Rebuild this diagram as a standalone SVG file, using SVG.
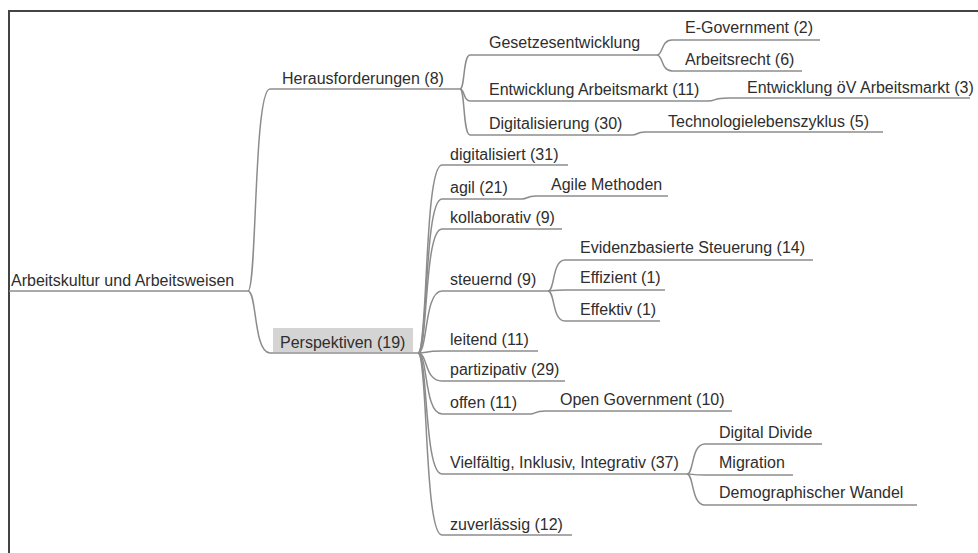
<svg xmlns="http://www.w3.org/2000/svg" width="978" height="553" viewBox="0 0 978 553">
<style>
text{font-family:"Liberation Sans",Arial,sans-serif;font-size:16px;fill:#2e2e2e}
.u,.c{fill:none;stroke:#8c8c8c;stroke-width:1.5}
.frame{fill:none;stroke:#444;stroke-width:2}
</style>
<rect x="0" y="0" width="978" height="553" fill="#fff"/>
<path class="frame" d="M9 553 V11 H978"/>
<g id="connectors">
<path class="c" d="M248 291 C257 291 253.5 89 270 89"/>
<path class="c" d="M248 291 C257 291 253.5 353 270 353"/>
<path class="c" d="M460 89 C465 89 463 55 470 55"/>
<path class="c" d="M460 89 C465 89 463 101 470 101"/>
<path class="c" d="M460 89 C465 89 463 135 470 135"/>
<path class="c" d="M657 55 C663 55 661 40 672 40"/>
<path class="c" d="M657 55 C663 55 661 71 672 71"/>
<path class="c" d="M708 101 C716 101 713 98 728 98"/>
<path class="c" d="M632 135 C638 135 636 132 645 132"/>
<path class="c" d="M418 353 C428 353 424 165 442 165"/>
<path class="c" d="M418 353 C428 353 424 199 442 199"/>
<path class="c" d="M418 353 C428 353 424 229 442 229"/>
<path class="c" d="M418 353 C428 353 424 291 442 291"/>
<path class="c" d="M418 353 C428 353 424 351 442 351"/>
<path class="c" d="M418 353 C428 353 424 381 442 381"/>
<path class="c" d="M418 353 C428 353 424 414 442 414"/>
<path class="c" d="M418 353 C428 353 424 474 442 474"/>
<path class="c" d="M418 353 C428 353 424 535 442 535"/>
<path class="c" d="M522 199 C528 199 526 196 536 196"/>
<path class="c" d="M548 291 C555 291 552 260 565 260"/>
<path class="c" d="M548 291 C555 291 552 290 565 290"/>
<path class="c" d="M548 291 C555 291 552 321 565 321"/>
<path class="c" d="M530 414 C536 414 534 411 545 411"/>
<path class="c" d="M687 474 C694 474 691 444 705 444"/>
<path class="c" d="M687 474 C694 474 691 475 705 475"/>
<path class="c" d="M687 474 C694 474 691 505 705 505"/>
</g>
<g id="root"><text x="11" y="286">Arbeitskultur und Arbeitsweisen</text><path class="u" d="M9 291 H248"/></g>
<g id="herausforderungen"><text x="282" y="84">Herausforderungen (8)</text><path class="u" d="M270 89 H460"/></g>
<g id="perspektiven"><rect x="273" y="328" width="140" height="24" fill="#d4d4d4"/><text x="280" y="348">Perspektiven (19)</text><path class="u" d="M270 353 H418"/></g>
<g id="gesetzesentwicklung"><text x="489" y="48">Gesetzesentwicklung</text><path class="u" d="M470 55 H657"/></g>
<g id="egovernment"><text x="685" y="33">E-Government (2)</text><path class="u" d="M672 40 H820"/></g>
<g id="arbeitsrecht"><text x="685" y="65">Arbeitsrecht (6)</text><path class="u" d="M672 71 H802"/></g>
<g id="entwicklung-arbeitsmarkt"><text x="489" y="95">Entwicklung Arbeitsmarkt (11)</text><path class="u" d="M470 101 H708"/></g>
<g id="entwicklung-oev"><text x="747" y="93">Entwicklung öV Arbeitsmarkt (3)</text><path class="u" d="M728 98 H970"/></g>
<g id="digitalisierung"><text x="489" y="129">Digitalisierung (30)</text><path class="u" d="M470 135 H632"/></g>
<g id="technologielebenszyklus"><text x="668" y="127">Technologielebenszyklus (5)</text><path class="u" d="M645 132 H883"/></g>
<g id="digitalisiert"><text x="450" y="160">digitalisiert (31)</text><path class="u" d="M442 165 H568"/></g>
<g id="agil"><text x="450" y="193">agil (21)</text><path class="u" d="M442 199 H522"/></g>
<g id="agile-methoden"><text x="551" y="190">Agile Methoden</text><path class="u" d="M536 196 H668"/></g>
<g id="kollaborativ"><text x="450" y="223">kollaborativ (9)</text><path class="u" d="M442 229 H562"/></g>
<g id="steuernd"><text x="450" y="285">steuernd (9)</text><path class="u" d="M442 291 H548"/></g>
<g id="evidenz"><text x="580" y="253">Evidenzbasierte Steuerung (14)</text><path class="u" d="M565 260 H813"/></g>
<g id="effizient"><text x="580" y="283">Effizient (1)</text><path class="u" d="M565 290 H665"/></g>
<g id="effektiv"><text x="580" y="315">Effektiv (1)</text><path class="u" d="M565 321 H660"/></g>
<g id="leitend"><text x="450" y="345">leitend (11)</text><path class="u" d="M442 351 H538"/></g>
<g id="partizipativ"><text x="450" y="375">partizipativ (29)</text><path class="u" d="M442 381 H565"/></g>
<g id="offen"><text x="450" y="408">offen (11)</text><path class="u" d="M442 414 H530"/></g>
<g id="open-government"><text x="560" y="405">Open Government (10)</text><path class="u" d="M545 411 H732"/></g>
<g id="vielfaeltig"><text x="450" y="468">Vielfältig, Inklusiv, Integrativ (37)</text><path class="u" d="M442 474 H687"/></g>
<g id="digital-divide"><text x="719" y="438">Digital Divide</text><path class="u" d="M705 444 H822"/></g>
<g id="migration"><text x="719" y="468">Migration</text><path class="u" d="M705 475 H793"/></g>
<g id="demographischer-wandel"><text x="719" y="498">Demographischer Wandel</text><path class="u" d="M705 505 H917"/></g>
<g id="zuverlaessig"><text x="450" y="530">zuverlässig (12)</text><path class="u" d="M442 535 H572"/></g>
</svg>
